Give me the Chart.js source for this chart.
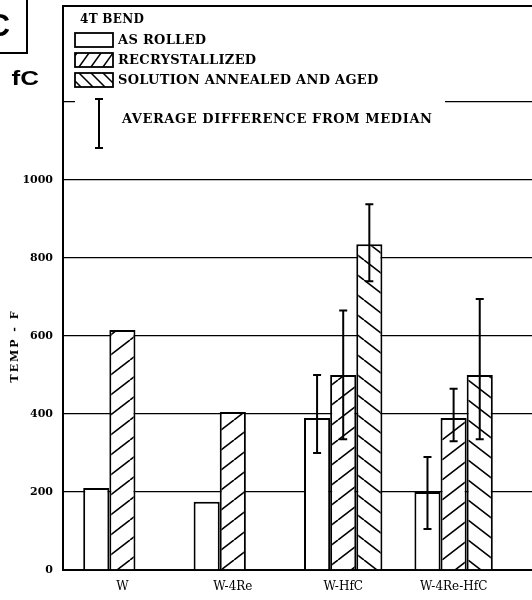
<!DOCTYPE html>
<html><head><meta charset="utf-8">
<script src="https://cdn.jsdelivr.net/npm/chart.js@4/dist/chart.umd.min.js"></script>
<style>html,body{margin:0;padding:0;background:#fff;overflow:hidden}</style>
</head><body>
<canvas id="c" width="532" height="600"></canvas>
<script>
// ---- data ----
const categories = ['W', 'W-4Re', 'W-HfC', 'W-4Re-HfC'];
const asRolled = [210, 175, 390, 200];
const recrystallized = [615, 405, 500, 390];
const annealedAged = [null, null, 835, 500];
const asRolledErr = [null, null, [300, 500], [105, 290]];
const recrystErr = [null, null, [335, 665], [330, 465]];
const annealedErr = [null, null, [740, 938], [335, 695]];
const yTickValues = [0, 200, 400, 600, 800, 1000, 1200];
const yLabelMax = 1000;
const seriesNames = ['AS ROLLED', 'RECRYSTALLIZED', 'SOLUTION ANNEALED AND AGED'];
const legendTitle = '4T BEND';
const errNote = 'AVERAGE DIFFERENCE FROM MEDIAN';
const yTitle = 'TEMP - F';

const SERIF = '"DejaVu Serif", "Liberation Serif", serif';

function hatch(dir) {
  const w = 26, h = 20;
  const c = document.createElement('canvas'); c.width = w; c.height = h;
  const g = c.getContext('2d');
  g.fillStyle = '#fff'; g.fillRect(0, 0, w, h);
  g.strokeStyle = '#000'; g.lineWidth = 1.6;
  for (const dx of [-w, 0, w]) {
    g.beginPath();
    if (dir > 0) { g.moveTo(dx, h); g.lineTo(dx + w, 0); }
    else { g.moveTo(dx, 0); g.lineTo(dx + w, h); }
    g.stroke();
  }
  return g.createPattern(c, 'repeat');
}
const fwd = hatch(1), back = hatch(-1);

const toXY = arr => arr.map((v, i) => ({ x: i, y: v }));

const errPlugin = {
  id: 'errbars',
  beforeDatasetsDraw(chart) {
    const ctx = chart.ctx, a = chart.chartArea;
    const y = chart.scales.y;
    ctx.save();
    ctx.fillStyle = '#fff';
    const gy = y.getPixelForValue(1200);
    ctx.fillRect(a.left + 12, gy - 6, 370, 12);
    ctx.restore();
  },
  afterDatasetsDraw(chart) {
    const ctx = chart.ctx, y = chart.scales.y;
    const errs = [asRolledErr, recrystErr, annealedErr];
    ctx.save(); ctx.strokeStyle = '#000'; ctx.lineWidth = 2;
    errs.forEach((arr, di) => {
      const meta = chart.getDatasetMeta(di);
      arr.forEach((e, i) => {
        if (!e) return;
        const x = meta.data[i].x;
        const y1 = y.getPixelForValue(e[0]), y2 = y.getPixelForValue(e[1]);
        ctx.beginPath();
        ctx.moveTo(x, y1); ctx.lineTo(x, y2);
        ctx.moveTo(x - 4, y1); ctx.lineTo(x + 4, y1);
        ctx.moveTo(x - 4, y2); ctx.lineTo(x + 4, y2);
        ctx.stroke();
      });
    });
    ctx.restore();
  },
  afterDraw(chart) {
    const ctx = chart.ctx, a = chart.chartArea;
    ctx.save();
    ctx.strokeStyle = '#000'; ctx.fillStyle = '#000';
    ctx.lineWidth = 2;
    ctx.beginPath(); ctx.moveTo(a.left - 1, a.top); ctx.lineTo(a.right, a.top); ctx.stroke();
    ctx.font = 'bold 12px ' + SERIF;
    ctx.textBaseline = 'middle'; ctx.textAlign = 'left';
    ctx.letterSpacing = '0.3px';
    ctx.fillText(legendTitle, 80, 20);
    const rows = [40, 60, 80];
    const sx = 75, sw = 38, sh = 14;
    ctx.font = '600 13px ' + SERIF;
    ctx.letterSpacing = '0.3px';
    rows.forEach((ry, k) => {
      const top = ry - sh / 2;
      ctx.fillStyle = '#fff'; ctx.fillRect(sx, top, sw, sh);
      ctx.lineWidth = 1.5; ctx.strokeStyle = '#000';
      if (k > 0) {
        ctx.save(); ctx.beginPath(); ctx.rect(sx, top, sw, sh); ctx.clip();
        ctx.beginPath();
        for (let j = -1; j < 4; j++) {
          const x0 = sx + 4 + j * 12;
          if (k === 1) { ctx.moveTo(x0, top + sh); ctx.lineTo(x0 + 10, top); }
          else { ctx.moveTo(x0, top); ctx.lineTo(x0 + 14, top + sh); }
        }
        ctx.stroke(); ctx.restore();
      }
      ctx.lineWidth = 1.8;
      ctx.strokeRect(sx, top, sw, sh);
      ctx.fillStyle = '#000';
      ctx.fillText(seriesNames[k], 118, ry + 1);
    });
    ctx.lineWidth = 2;
    ctx.beginPath();
    ctx.moveTo(99, 99); ctx.lineTo(99, 148);
    ctx.moveTo(95, 99); ctx.lineTo(103, 99);
    ctx.moveTo(95, 148); ctx.lineTo(103, 148);
    ctx.stroke();
    ctx.letterSpacing = '0.6px';
    ctx.fillText(errNote, 122, 120);
    ctx.save();
    ctx.translate(15, 346); ctx.rotate(-Math.PI / 2);
    ctx.textAlign = 'center';
    ctx.font = 'bold 11px ' + SERIF; ctx.letterSpacing = '2px';
    ctx.fillText(yTitle, 0, 0);
    ctx.restore();
    // neighbouring panel fragment
    ctx.letterSpacing = '0px';
    ctx.lineWidth = 2;
    ctx.beginPath(); ctx.moveTo(27, 0); ctx.lineTo(27, 53); ctx.lineTo(0, 53); ctx.stroke();
    ctx.font = 'bold 32px "Liberation Sans", Arial, sans-serif';
    ctx.textAlign = 'right'; ctx.textBaseline = 'alphabetic';
    ctx.fillText('C', 10, 36);
    ctx.save();
    ctx.translate(39, 85); ctx.scale(1.3, 1);
    ctx.font = 'bold 20px "Liberation Sans", Arial, sans-serif';
    ctx.fillText('fC', 0, 0);
    ctx.restore();
    ctx.restore();
  }
};

new Chart(document.getElementById('c'), {
  type: 'bar',
  data: {
    datasets: [
      { label: seriesNames[0], data: toXY(asRolled), backgroundColor: '#fff', borderColor: '#000', borderWidth: 2 },
      { label: seriesNames[1], data: toXY(recrystallized), backgroundColor: fwd, borderColor: '#000', borderWidth: 2 },
      { label: seriesNames[2], data: toXY(annealedAged), backgroundColor: back, borderColor: '#000', borderWidth: 2 }
    ]
  },
  options: {
    responsive: false, animation: false, devicePixelRatio: 1,
    layout: { padding: { top: 6, left: 0, right: 0, bottom: 0 } },
    datasets: { bar: { categoryPercentage: 0.71, barPercentage: 1.0 } },
    plugins: { legend: { display: false }, tooltip: { enabled: false } },
    scales: {
      x: {
        type: 'linear', min: -0.538, max: 3.71, offset: false,
        grid: { display: false, offset: false, drawTicks: false },
        border: { display: true, color: '#000', width: 2 },
        afterBuildTicks: s => { s.ticks = categories.map((_, i) => ({ value: i })); },
        afterFit: s => { s.height = 30; s.paddingLeft = 0; s.paddingRight = 0; },
        ticks: {
          autoSkip: false, maxRotation: 0, padding: 10, color: '#000',
          font: { family: SERIF, size: 12 },
          callback: v => categories[v] ?? ''
        }
      },
      y: {
        min: 0, max: 1446,
        grid: { color: '#000', lineWidth: 1.3, drawTicks: false },
        border: { display: true, color: '#000', width: 2 },
        afterBuildTicks: s => { s.ticks = yTickValues.map(v => ({ value: v })); },
        afterFit: s => { s.width = 63; s.paddingTop = 0; s.paddingBottom = 0; },
        ticks: {
          padding: 10, color: '#000',
          font: { family: SERIF, size: 11, weight: 'bold' },
          callback: v => (v <= yLabelMax ? String(v) : '')
        }
      }
    }
  },
  plugins: [errPlugin]
});
</script>
</body></html>
